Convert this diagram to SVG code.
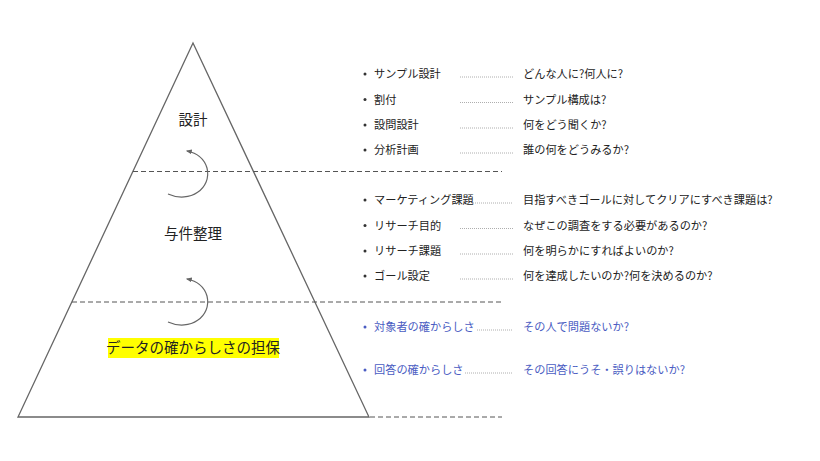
<svg xmlns="http://www.w3.org/2000/svg" width="820" height="461" viewBox="0 0 820 461">
<style>
text{font-family:"Noto Sans CJK JP","Noto Sans",sans-serif;fill:#222}
.lbl{font-size:14.5px;text-anchor:middle}
.it{font-size:11.2px}
.blue{fill:#4a5cc2}
.dash{stroke:#555;stroke-width:1;stroke-dasharray:5 3;fill:none}
.lead{stroke:#999;stroke-width:0.8;stroke-dasharray:1 1;fill:none}
.tri{fill:#fff;stroke:#666;stroke-width:1.3}
.arc{fill:none;stroke:#666;stroke-width:1.2;marker-end:url(#ah)}
.bul{fill:#333}
.bb{fill:#4a5cc2}
</style>
<defs>
<marker id="ah" viewBox="0 0 10 10" refX="8" refY="5" markerWidth="6" markerHeight="6" orient="auto" markerUnits="userSpaceOnUse">
<path d="M0,1 L10,5 L0,9 z" fill="#666"/>
</marker>
</defs>
<rect width="820" height="461" fill="#fff"/>
<g id="pyramid">
<polygon class="tri" points="193,43 18,417 369,417"/>
</g>
<g id="connectors">
<line class="dash" x1="133" y1="171.5" x2="502" y2="171.5"/>
<line class="dash" x1="72" y1="302" x2="503" y2="302"/>
<line class="dash" x1="370" y1="417" x2="502" y2="417"/>
<path class="arc" d="M168,194 C190,204 212,188 207,168 C204,158 197,153 187,151"/>
<path class="arc" d="M168,194 C190,204 212,188 207,168 C204,158 197,153 187,151" transform="translate(0,128)"/>
</g>
<g id="node-sekkei">
<text class="lbl" x="193" y="125">設計</text>
</g>
<g id="node-yoken">
<text class="lbl" x="193" y="239">与件整理</text>
</g>
<g id="node-data">
<rect x="108" y="338" width="171" height="20" fill="#ffff00"/>
<text class="lbl" x="193" y="353">データの確からしさの担保</text>
</g>
<g id="items-sekkei">
<circle class="bul" cx="365" cy="74" r="1.5"/>
<text class="it" x="374" y="78">サンプル設計</text>
<line class="lead" x1="460" y1="77" x2="513" y2="77"/>
<text class="it" x="523" y="78">どんな人に?何人に?</text>
<circle class="bul" cx="365" cy="99.5" r="1.5"/>
<text class="it" x="374" y="103.5">割付</text>
<line class="lead" x1="460" y1="102.5" x2="513" y2="102.5"/>
<text class="it" x="523" y="103.5">サンプル構成は?</text>
<circle class="bul" cx="365" cy="125" r="1.5"/>
<text class="it" x="374" y="129">設問設計</text>
<line class="lead" x1="460" y1="128" x2="513" y2="128"/>
<text class="it" x="523" y="129">何をどう聞くか?</text>
<circle class="bul" cx="365" cy="150" r="1.5"/>
<text class="it" x="374" y="154">分析計画</text>
<line class="lead" x1="460" y1="153" x2="513" y2="153"/>
<text class="it" x="523" y="154">誰の何をどうみるか?</text>
</g>
<g id="items-yoken">
<circle class="bul" cx="365" cy="200" r="1.5"/>
<text class="it" x="374" y="204">マーケティング課題</text>
<line class="lead" x1="473" y1="203" x2="513" y2="203"/>
<text class="it" x="523" y="204">目指すべきゴールに対してクリアにすべき課題は?</text>
<circle class="bul" cx="365" cy="225.5" r="1.5"/>
<text class="it" x="374" y="229.5">リサーチ目的</text>
<line class="lead" x1="460" y1="228.5" x2="513" y2="228.5"/>
<text class="it" x="523" y="229.5">なぜこの調査をする必要があるのか?</text>
<circle class="bul" cx="365" cy="251" r="1.5"/>
<text class="it" x="374" y="255">リサーチ課題</text>
<line class="lead" x1="460" y1="254" x2="513" y2="254"/>
<text class="it" x="523" y="255">何を明らかにすればよいのか?</text>
<circle class="bul" cx="365" cy="276" r="1.5"/>
<text class="it" x="374" y="280">ゴール設定</text>
<line class="lead" x1="460" y1="279" x2="513" y2="279"/>
<text class="it" x="523" y="280">何を達成したいのか?何を決めるのか?</text>
</g>
<g id="items-data">
<circle class="bb" cx="365" cy="327" r="1.5"/>
<text class="it blue" x="374" y="331">対象者の確からしさ</text>
<line class="lead" x1="477" y1="330" x2="513" y2="330"/>
<text class="it blue" x="523" y="331">その人で問題ないか?</text>
<circle class="bb" cx="365" cy="370" r="1.5"/>
<text class="it blue" x="374" y="374">回答の確からしさ</text>
<line class="lead" x1="465" y1="373" x2="513" y2="373"/>
<text class="it blue" x="523" y="374">その回答にうそ・誤りはないか?</text>
</g>
</svg>
